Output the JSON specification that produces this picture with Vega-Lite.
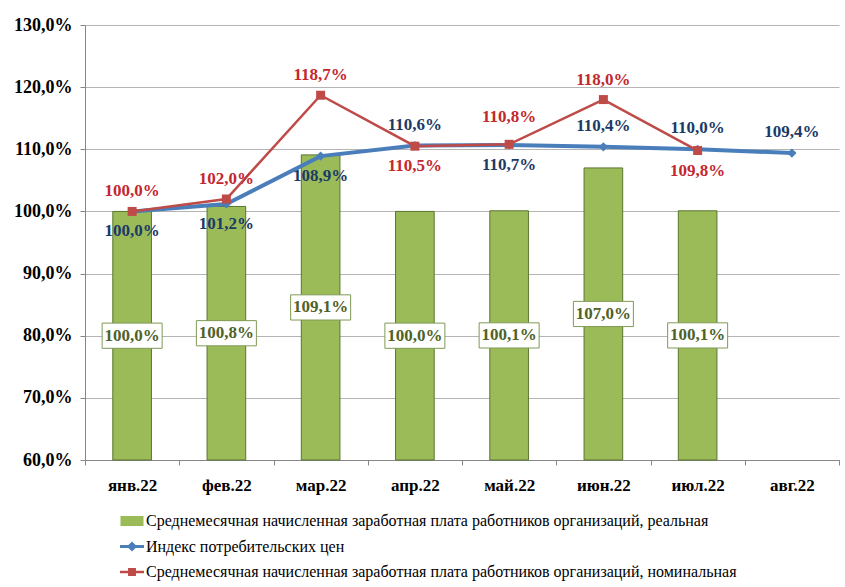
{
  "$schema": "https://vega.github.io/schema/vega-lite/v6.json",
  "width": 754,
  "height": 435,
  "autosize": {"type": "none"},
  "padding": {"left": 85, "top": 25, "right": 6, "bottom": 127},
  "background": "white",
  "config": {
    "view": {"stroke": null},
    "locale": {"number": {"decimal": ",", "thousands": " ", "grouping": [3], "currency": ["", ""]}}
  },
  "data": {
    "values": [
      {"month": "янв.22", "series": "Среднемесячная начисленная заработная плата работников организаций, реальная", "value": 1.000},
      {"month": "фев.22", "series": "Среднемесячная начисленная заработная плата работников организаций, реальная", "value": 1.008},
      {"month": "мар.22", "series": "Среднемесячная начисленная заработная плата работников организаций, реальная", "value": 1.091},
      {"month": "апр.22", "series": "Среднемесячная начисленная заработная плата работников организаций, реальная", "value": 1.000},
      {"month": "май.22", "series": "Среднемесячная начисленная заработная плата работников организаций, реальная", "value": 1.001},
      {"month": "июн.22", "series": "Среднемесячная начисленная заработная плата работников организаций, реальная", "value": 1.070},
      {"month": "июл.22", "series": "Среднемесячная начисленная заработная плата работников организаций, реальная", "value": 1.001},
      {"month": "янв.22", "series": "Индекс потребительских цен", "value": 1.000},
      {"month": "фев.22", "series": "Индекс потребительских цен", "value": 1.012},
      {"month": "мар.22", "series": "Индекс потребительских цен", "value": 1.089},
      {"month": "апр.22", "series": "Индекс потребительских цен", "value": 1.106},
      {"month": "май.22", "series": "Индекс потребительских цен", "value": 1.107},
      {"month": "июн.22", "series": "Индекс потребительских цен", "value": 1.104},
      {"month": "июл.22", "series": "Индекс потребительских цен", "value": 1.100},
      {"month": "авг.22", "series": "Индекс потребительских цен", "value": 1.094},
      {"month": "янв.22", "series": "Среднемесячная начисленная заработная плата работников организаций, номинальная", "value": 1.000},
      {"month": "фев.22", "series": "Среднемесячная начисленная заработная плата работников организаций, номинальная", "value": 1.020},
      {"month": "мар.22", "series": "Среднемесячная начисленная заработная плата работников организаций, номинальная", "value": 1.187},
      {"month": "апр.22", "series": "Среднемесячная начисленная заработная плата работников организаций, номинальная", "value": 1.105},
      {"month": "май.22", "series": "Среднемесячная начисленная заработная плата работников организаций, номинальная", "value": 1.108},
      {"month": "июн.22", "series": "Среднемесячная начисленная заработная плата работников организаций, номинальная", "value": 1.180},
      {"month": "июл.22", "series": "Среднемесячная начисленная заработная плата работников организаций, номинальная", "value": 1.098}
    ]
  },
  "encoding": {
    "x": {
      "field": "month",
      "type": "nominal",
      "scale": {"domain": ["янв.22", "фев.22", "мар.22", "апр.22", "май.22", "июн.22", "июл.22", "авг.22"], "paddingInner": 0, "paddingOuter": 0},
      "axis": {
        "title": null,
        "labelAngle": 0,
        "tickBand": "extent",
        "grid": false,
        "domainColor": "#868686",
        "tickColor": "#868686",
        "tickSize": 5,
        "labelFont": "Liberation Serif",
        "labelFontWeight": "bold",
        "labelFontSize": 17,
        "labelColor": "#000000",
        "labelPadding": 12
      }
    }
  },
  "layer": [
    {
      "encoding": {
        "y": {
          "field": "value",
          "type": "quantitative",
          "scale": {"domain": [0.6, 1.3], "zero": false, "nice": false},
          "axis": {
            "title": null,
            "values": [0.6, 0.7, 0.8, 0.9, 1.0, 1.1, 1.2, 1.3],
            "format": ".1%",
            "gridColor": "#B4B4B4",
            "domainColor": "#868686",
            "tickColor": "#868686",
            "tickSize": 5,
            "labelFont": "Liberation Serif",
            "labelFontWeight": "bold",
            "labelFontSize": 18,
            "labelColor": "#000000",
            "labelPadding": 8
          }
        }
      },
      "layer": [
        {
          "transform": [{"filter": "datum.series === 'Среднемесячная начисленная заработная плата работников организаций, реальная'"}],
          "mark": {"type": "bar", "width": {"band": 0.41}, "fill": "#9BBB59", "stroke": "#5A7530", "strokeWidth": 1},
          "encoding": {"y2": {"datum": 0.6}}
        },
        {
          "mark": {"type": "point", "filled": true, "size": 0, "opacity": 1},
          "encoding": {
            "color": {
              "field": "series",
              "type": "nominal",
              "scale": {
                "domain": [
                  "Среднемесячная начисленная заработная плата работников организаций, реальная",
                  "Индекс потребительских цен",
                  "Среднемесячная начисленная заработная плата работников организаций, номинальная"
                ],
                "range": ["#9BBB59", "#4A7EBB", "#BE4B48"]
              },
              "legend": {
                "title": null,
                "orient": "none",
                "legendX": 35,
                "legendY": 484,
                "direction": "vertical",
                "padding": 0,
                "symbolSize": 576,
                "symbolStrokeWidth": 0,
                "labelFont": "Liberation Serif",
                "labelFontSize": 16,
                "labelColor": "#000000",
                "labelOffset": 2,
                "labelLimit": 800,
                "rowPadding": 5.5
              }
            },
            "shape": {
              "field": "series",
              "type": "nominal",
              "scale": {
                "domain": [
                  "Среднемесячная начисленная заработная плата работников организаций, реальная",
                  "Индекс потребительских цен",
                  "Среднемесячная начисленная заработная плата работников организаций, номинальная"
                ],
                "range": [
                  "M-0.96,-0.42H0.96V0.42H-0.96Z",
                  "M-1,-0.125H-0.3L0,-0.42L0.3,-0.125H1V0.125H0.3L0,0.42L-0.3,0.125H-1Z",
                  "M-1,-0.1H-0.33V-0.33H0.33V-0.1H1V0.1H0.33V0.33H-0.33V0.1H-1Z"
                ]
              },
              "legend": {
                "title": null,
                "orient": "none",
                "legendX": 35,
                "legendY": 484,
                "direction": "vertical",
                "padding": 0,
                "symbolSize": 576,
                "symbolStrokeWidth": 0,
                "labelFont": "Liberation Serif",
                "labelFontSize": 16,
                "labelColor": "#000000",
                "labelOffset": 2,
                "labelLimit": 800,
                "rowPadding": 5.5
              }
            }
          }
        },
        {
          "transform": [{"filter": "datum.series === 'Индекс потребительских цен'"}],
          "mark": {"type": "line", "color": "#4A7EBB", "strokeWidth": 4},
          "encoding": {}
        },
        {
          "transform": [{"filter": "datum.series === 'Индекс потребительских цен'"}],
          "mark": {"type": "point", "shape": "diamond", "filled": true, "size": 86, "color": "#4A7EBB", "opacity": 1},
          "encoding": {}
        },
        {
          "transform": [{"filter": "datum.series === 'Среднемесячная начисленная заработная плата работников организаций, номинальная'"}],
          "mark": {"type": "line", "color": "#BE4B48", "strokeWidth": 2.5},
          "encoding": {}
        },
        {
          "transform": [{"filter": "datum.series === 'Среднемесячная начисленная заработная плата работников организаций, номинальная'"}],
          "mark": {"type": "point", "shape": "square", "filled": true, "size": 81, "color": "#BE4B48", "opacity": 1},
          "encoding": {}
        },
        {
          "transform": [
            {"filter": "datum.series === 'Индекс потребительских цен'"},
            {"filter": {"field": "month", "oneOf": ["янв.22", "фев.22", "мар.22", "май.22"]}}
          ],
          "mark": {"type": "text", "dy": 20, "baseline": "middle", "font": "Liberation Serif", "fontWeight": "bold", "fontSize": 17, "color": "#1B3A66"},
          "encoding": {"text": {"field": "value", "type": "quantitative", "format": ".1%"}}
        },
        {
          "transform": [
            {"filter": "datum.series === 'Индекс потребительских цен'"},
            {"filter": {"field": "month", "oneOf": ["апр.22", "июн.22", "июл.22", "авг.22"]}}
          ],
          "mark": {"type": "text", "dy": -21, "baseline": "middle", "font": "Liberation Serif", "fontWeight": "bold", "fontSize": 17, "color": "#1B3A66"},
          "encoding": {"text": {"field": "value", "type": "quantitative", "format": ".1%"}}
        },
        {
          "transform": [
            {"filter": "datum.series === 'Среднемесячная начисленная заработная плата работников организаций, номинальная'"},
            {"filter": {"field": "month", "oneOf": ["янв.22", "фев.22", "мар.22", "июн.22"]}}
          ],
          "mark": {"type": "text", "dy": -20, "baseline": "middle", "font": "Liberation Serif", "fontWeight": "bold", "fontSize": 17, "color": "#C3282F"},
          "encoding": {"text": {"field": "value", "type": "quantitative", "format": ".1%"}}
        },
        {
          "transform": [
            {"filter": "datum.series === 'Среднемесячная начисленная заработная плата работников организаций, номинальная'"},
            {"filter": {"field": "month", "oneOf": ["май.22"]}}
          ],
          "mark": {"type": "text", "dy": -27, "baseline": "middle", "font": "Liberation Serif", "fontWeight": "bold", "fontSize": 17, "color": "#C3282F"},
          "encoding": {"text": {"field": "value", "type": "quantitative", "format": ".1%"}}
        },
        {
          "transform": [
            {"filter": "datum.series === 'Среднемесячная начисленная заработная плата работников организаций, номинальная'"},
            {"filter": {"field": "month", "oneOf": ["апр.22", "июл.22"]}}
          ],
          "mark": {"type": "text", "dy": 20, "baseline": "middle", "font": "Liberation Serif", "fontWeight": "bold", "fontSize": 17, "color": "#C3282F"},
          "encoding": {"text": {"field": "value", "type": "quantitative", "format": ".1%"}}
        }
      ]
    },
    {
      "transform": [{"filter": "datum.series === 'Среднемесячная начисленная заработная плата работников организаций, реальная'"}],
      "encoding": {
        "y": {
          "field": "value",
          "type": "quantitative",
          "scale": {"domain": [0.6, 2.0], "zero": false, "nice": false},
          "axis": null
        }
      },
      "layer": [
        {
          "mark": {"type": "point", "shape": "M-1,-0.42H1V0.42H-1Z", "size": 3600, "filled": true, "fill": "#FFFFFF", "stroke": "#7F9A55", "strokeWidth": 1, "opacity": 1},
          "encoding": {}
        },
        {
          "mark": {"type": "text", "baseline": "middle", "font": "Liberation Serif", "fontWeight": "bold", "fontSize": 17, "color": "#4F6228"},
          "encoding": {"text": {"field": "value", "type": "quantitative", "format": ".1%"}}
        }
      ]
    }
  ],
  "resolve": {"scale": {"y": "independent"}}
}
